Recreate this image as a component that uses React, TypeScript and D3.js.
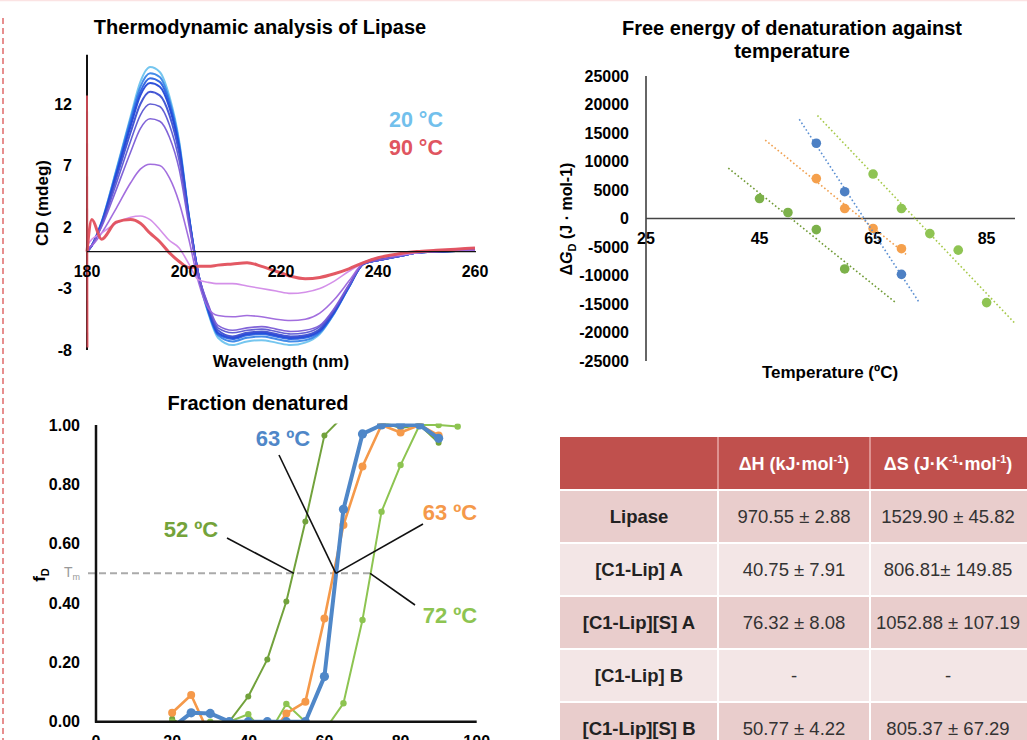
import React from 'react';
import * as d3 from 'd3';

const FONT = '"Liberation Sans", Arial, Helvetica, sans-serif';

// ---- CD spectra (mdeg) ----
const wavelengths = [180, 181, 183, 186, 189, 191, 193, 195, 197, 199, 201, 203, 205, 207, 210, 213, 216, 219, 222, 225, 228, 231, 234, 237, 240, 244, 248, 252, 256, 260];
const cd20 = [0.0, 0.5, 2.4, 6.6, 11.0, 13.8, 15.0, 14.6, 12.6, 9.0, 3.0, -2.0, -5.0, -7.0, -7.6, -7.3, -7.2, -7.4, -7.6, -7.4, -6.7, -5.0, -2.9, -1.0, -0.7, -0.4, -0.1, 0.0, 0.05, 0.1];
const cd30 = [0.0, 0.5, 2.4, 6.5, 10.8, 13.4, 14.5, 14.2, 12.3, 8.8, 2.9, -2.0, -4.9, -6.8, -7.3, -7.0, -6.9, -7.1, -7.3, -7.2, -6.6, -5.0, -2.9, -1.0, -0.7, -0.4, -0.1, 0.0, 0.05, 0.1];
const cd40 = [0.0, 0.5, 2.3, 6.3, 10.5, 13.0, 14.1, 13.8, 12.0, 8.6, 2.9, -1.9, -4.8, -6.7, -7.1, -6.8, -6.7, -6.9, -7.1, -7.0, -6.5, -4.9, -2.9, -1.0, -0.7, -0.4, -0.1, 0.0, 0.05, 0.1];
const cd45 = [0.0, 0.5, 2.3, 6.2, 10.2, 12.7, 13.7, 13.4, 11.7, 8.4, 2.8, -1.9, -4.7, -6.6, -7.0, -6.7, -6.6, -6.8, -7.0, -6.9, -6.4, -4.9, -2.8, -1.0, -0.7, -0.4, -0.1, 0.0, 0.05, 0.1];
const cd50 = [0.0, 0.5, 2.2, 5.9, 9.7, 12.0, 13.0, 12.7, 11.1, 8.0, 2.7, -1.9, -4.6, -6.4, -6.9, -6.6, -6.5, -6.7, -6.9, -6.8, -6.3, -4.8, -2.8, -1.0, -0.7, -0.4, -0.1, 0.0, 0.05, 0.1];
const cd55 = [0.0, 0.5, 2.1, 5.5, 9.0, 11.1, 12.0, 11.8, 10.3, 7.4, 2.5, -1.9, -4.4, -6.2, -6.6, -6.4, -6.3, -6.5, -6.7, -6.6, -6.1, -4.7, -2.8, -1.0, -0.7, -0.4, -0.1, 0.0, 0.05, 0.1];
const cd60 = [0.0, 0.5, 2.0, 5.0, 8.1, 10.0, 10.8, 10.6, 9.3, 6.7, 2.2, -1.9, -4.3, -6.0, -6.4, -6.2, -6.1, -6.3, -6.5, -6.4, -6.0, -4.6, -2.7, -1.0, -0.7, -0.4, -0.1, 0.0, 0.05, 0.1];
const cd65 = [0.3, 0.5, 1.5, 3.5, 5.6, 6.7, 7.1, 7.0, 6.0, 4.0, 1.0, -2.5, -4.6, -5.2, -5.3, -5.2, -5.3, -5.5, -5.6, -5.5, -5.0, -3.9, -2.4, -0.9, -0.5, -0.3, -0.1, 0.0, 0.1, 0.1];
const cd70 = [0.5, 1.0, 1.5, 2.3, 2.8, 2.9, 2.6, 1.8, 0.9, 0.3, -1.0, -2.3, -2.5, -2.6, -2.6, -2.8, -3.0, -3.2, -3.4, -3.3, -3.0, -2.4, -1.6, -0.9, -0.5, -0.3, -0.1, 0.1, 0.2, 0.3];
const cd90 = [0.0, 2.6, 1.0, 2.4, 2.6, 2.3, 1.5, 0.8, -0.1, -0.8, -1.3, -1.2, -1.2, -1.1, -1.0, -0.9, -1.2, -1.6, -2.0, -2.2, -2.1, -1.8, -1.4, -0.9, -0.5, -0.2, 0.0, 0.1, 0.2, 0.3];
const cd90Spike = [12.7, -7.8];
const cdColors = ['#6ec3ee', '#3a86e8', '#2a62e2', '#2248d8', '#3c4fd2', '#5b57d2', '#7a5cd6', '#9d66dc', '#d28ae8', '#e2505c'];
const cdYTicks = [12, 7, 2, -3, -8];
const cdXTicks = [180, 200, 220, 240, 260];

// ---- Free energy of denaturation ----
const dgBlueT = [55, 60, 70];
const dgBlue = [13200, 4700, -9800];
const dgOrangeT = [55, 60, 65, 70];
const dgOrange = [7000, 1750, -1750, -5300];
const dgDarkGreenT = [45, 50, 55, 60];
const dgDarkGreen = [3500, 1050, -1950, -8850];
const dgLightGreenT = [65, 70, 75, 80, 85];
const dgLightGreen = [7800, 1750, -2650, -5550, -14750];
const dgTrendRange = { blue: [52, 73.2], orange: [46, 70.8], darkGreen: [39.5, 68.9], lightGreen: [55.2, 90] };
const dgYTicks = [25000, 20000, 15000, 10000, 5000, 0, -5000, -10000, -15000, -20000, -25000];
const dgXTicks = [25, 45, 65, 85];

// ---- Fraction denatured ----
const fdT = [20, 25, 30, 35, 40, 45, 50, 55, 60, 65, 70, 75, 80, 85, 90];
const fdBlue = [-0.02, 0.03, 0.028, 0.0, 0.0, 0.0, 0.0, 0.0, 0.152, 0.716, 0.97, 1.0, 1.0, 1.0, 0.955];
const fdOrange = [0.03, 0.09, -0.05, -0.05, -0.04, -0.065, 0.028, 0.067, 0.348, 0.663, 0.86, 1.0, 0.975, 1.0, 0.965];
const fdDarkGreen = [0.01, -0.03, -0.01, 0.0, 0.085, 0.21, 0.405, 0.675, 0.965, 1.03, 1.02, 1.01, 0.99, 1.0, 0.94];
const fdLightGreenT = [20, 25, 30, 35, 40, 45, 50, 55, 60, 65, 70, 75, 80, 85, 90, 95];
const fdLightGreen = [0.0, -0.04, 0.0, 0.0, 0.025, -0.05, 0.06, 0.0, -0.03, 0.062, 0.343, 0.708, 0.865, 1.0, 1.0, 0.995];
const fdTm = [52, 63, 63, 72];
const fdYTicks = [0, 0.2, 0.4, 0.6, 0.8, 1.0];
const fdXTicks = [0, 20, 40, 60, 80, 100];

// ---- Thermodynamic table ----
const tableRows = ['Lipase', '[C1-Lip] A', '[C1-Lip][S] A', '[C1-Lip] B', '[C1-Lip][S] B'];
const tableDH = ['970.55 ± 2.88', '40.75 ± 7.91', '76.32 ± 8.08', '-', '50.77 ± 4.22'];
const tableDS = ['1529.90 ± 45.82', '806.81± 149.85', '1052.88 ± 107.19', '-', '805.37 ± 67.29'];

const BLUE = '#4f87c8';
const ORANGE = '#f5994a';
const DGREEN = '#72a23c';
const LGREEN = '#8dc451';

function regression(xs: number[], ys: number[]) {
  const mx = d3.mean(xs) || 0;
  const my = d3.mean(ys) || 0;
  let sxy = 0, sxx = 0;
  xs.forEach((x, i) => { sxy += (x - mx) * (ys[i] - my); sxx += (x - mx) * (x - mx); });
  const b = sxy / sxx;
  return (x: number) => my + b * (x - mx);
}

function CDPanel() {
  const x = d3.scaleLinear().domain([180, 260]).range([87, 475]);
  const y = d3.scaleLinear().domain([-8, 12]).range([350, 104]);
  const series = [cd20, cd30, cd40, cd45, cd50, cd55, cd60, cd65, cd70, cd90];
  const line = d3.line<number>().x((_, i) => x(wavelengths[i])).y(d => y(d)).curve(d3.curveMonotoneX);
  return (
    <g>
      <text x={260} y={34} textAnchor="middle" fontSize={20} fontWeight="bold">Thermodynamic analysis of Lipase</text>
      {series.map((s, k) => (
        <path key={k} d={line(s) || ''} fill="none" stroke={cdColors[k]}
          strokeWidth={k === 9 ? 3 : k < 5 ? 2 : 1.6} strokeOpacity={0.95} />
      ))}
      <line x1={x(180)} x2={x(180)} y1={y(16)} y2={y(-8)} stroke="#111" strokeWidth={2} />
      <line x1={x(180)} x2={x(180) + 0.5} y1={y(cd90Spike[0])} y2={y(cd90Spike[1])} stroke="#e2505c" strokeWidth={2} strokeOpacity={0.85} />
      <line x1={x(180)} x2={x(260) + 1} y1={y(0)} y2={y(0)} stroke="#111" strokeWidth={1.3} />
      {cdYTicks.map(t => (
        <text key={t} x={72} y={y(t)} dy="0.35em" textAnchor="end" fontSize={16} fontWeight="bold">{t}</text>
      ))}
      {cdXTicks.map(t => (
        <text key={t} x={x(t)} y={y(0) + 20} dy="0.35em" textAnchor="middle" fontSize={16} fontWeight="bold">{t}</text>
      ))}
      <text x={281} y={367} textAnchor="middle" fontSize={17} fontWeight="bold">Wavelength (nm)</text>
      <text transform="translate(48,203) rotate(-90)" textAnchor="middle" fontSize={17} fontWeight="bold">CD (mdeg)</text>
      <text x={416} y={127} textAnchor="middle" fontSize={21.5} fontWeight="bold" fill="#72c0ec">20 °C</text>
      <text x={416} y={155} textAnchor="middle" fontSize={21.5} fontWeight="bold" fill="#e05560">90 °C</text>
    </g>
  );
}

function FreeEnergyPanel() {
  const x = d3.scaleLinear().domain([25, 90]).range([646, 1015]);
  const y = d3.scaleLinear().domain([-25000, 25000]).range([361, 76]);
  const groups = [
    { t: dgDarkGreenT, v: dgDarkGreen, r: dgTrendRange.darkGreen, dot: '#7cb14a', trend: '#6f9a34' },
    { t: dgLightGreenT, v: dgLightGreen, r: dgTrendRange.lightGreen, dot: '#8fc453', trend: '#a6c94a' },
    { t: dgOrangeT, v: dgOrange, r: dgTrendRange.orange, dot: '#f5a04c', trend: '#f0a050' },
    { t: dgBlueT, v: dgBlue, r: dgTrendRange.blue, dot: '#4d80c4', trend: '#5b8fd2' },
  ];
  return (
    <g>
      <text x={792} y={35} textAnchor="middle" fontSize={20} fontWeight="bold">Free energy of denaturation against</text>
      <text x={792} y={58} textAnchor="middle" fontSize={20} fontWeight="bold">temperature</text>
      <line x1={x(25)} x2={x(25)} y1={y(25000)} y2={y(-25000)} stroke="#333" strokeWidth={1.5} />
      <line x1={x(25)} x2={x(90)} y1={y(0)} y2={y(0)} stroke="#444" strokeWidth={1.5} />
      {dgYTicks.map(t => (
        <text key={t} x={629} y={y(t)} dy="0.35em" textAnchor="end" fontSize={16} fontWeight="bold">{t}</text>
      ))}
      {dgXTicks.map(t => (
        <text key={t} x={x(t)} y={y(0) + 20} dy="0.35em" textAnchor="middle" fontSize={16} fontWeight="bold">{t}</text>
      ))}
      {groups.map((g, k) => {
        const f = regression(g.t, g.v);
        return (
          <g key={k}>
            <line x1={x(g.r[0])} x2={x(g.r[1])} y1={y(f(g.r[0]))} y2={y(f(g.r[1]))}
              stroke={g.trend} strokeWidth={1.6} strokeDasharray="1.6,2.4" />
            {g.t.map((t, i) => (
              <circle key={i} cx={x(t)} cy={y(g.v[i])} r={4.8} fill={g.dot} />
            ))}
          </g>
        );
      })}
      <text x={830} y={378} textAnchor="middle" fontSize={17} fontWeight="bold">Temperature (ºC)</text>
      <text transform="translate(572,219) rotate(-90)" textAnchor="middle" fontSize={16} fontWeight="bold">
        Δ<tspan fontStyle="italic">G</tspan><tspan fontSize={11} dy={4}>D</tspan><tspan dy={-4}> (J · mol-1)</tspan>
      </text>
    </g>
  );
}

function FractionPanel() {
  const x = d3.scaleLinear().domain([0, 100]).range([96, 476.7]);
  const y = d3.scaleLinear().domain([0, 1]).range([721.7, 425]);
  const series = [
    { t: fdT, v: fdDarkGreen, c: DGREEN, w: 2, r: 3 },
    { t: fdLightGreenT, v: fdLightGreen, c: LGREEN, w: 2, r: 3.2 },
    { t: fdT, v: fdOrange, c: ORANGE, w: 2.6, r: 4 },
    { t: fdT, v: fdBlue, c: BLUE, w: 4, r: 4.6 },
  ];
  const yHalf = y(0.5);
  const callouts = [
    { label: '52 ºC', color: '#74a33a', tx: 191, ty: 537, from: [227, 538], tm: fdTm[0] },
    { label: '63 ºC', color: BLUE, tx: 283, ty: 446, from: [279, 455], tm: fdTm[1] },
    { label: '63 ºC', color: ORANGE, tx: 450, ty: 520, from: [423, 524], tm: fdTm[2] },
    { label: '72 ºC', color: LGREEN, tx: 450, ty: 623, from: [415, 605], tm: fdTm[3] },
  ];
  return (
    <g>
      <defs>
        <clipPath id="fd-clip">
          <rect x={x(0)} y={y(1) - 1.5} width={x(100) - x(0) + 2} height={y(0) - y(1) + 1.5} />
        </clipPath>
      </defs>
      <text x={258} y={410} textAnchor="middle" fontSize={20} fontWeight="bold">Fraction denatured</text>
      <line x1={88} x2={x(72.5)} y1={yHalf} y2={yHalf} stroke="#aaa" strokeWidth={2} strokeDasharray="7,4" />
      <text x={64} y={yHalf + 4} fontSize={14} fill="#999">T<tspan fontSize={9} dy={3}>m</tspan></text>
      <g clipPath="url(#fd-clip)">
        {series.map((s, k) => {
          const line = d3.line<number>().x((_, i) => x(s.t[i])).y(d => y(d));
          return (
            <g key={k}>
              <path d={line(s.v) || ''} fill="none" stroke={s.c} strokeWidth={s.w} strokeLinejoin="round" />
              {s.v.map((d, i) => (
                <circle key={i} cx={x(s.t[i])} cy={y(d)} r={s.r} fill={s.c} />
              ))}
            </g>
          );
        })}
      </g>
      {callouts.map((c, k) => (
        <g key={k}>
          <line x1={c.from[0]} y1={c.from[1]} x2={x(c.tm)} y2={yHalf} stroke="#111" strokeWidth={1.6} />
          <text x={c.tx} y={c.ty} textAnchor="middle" fontSize={22} fontWeight="bold" fill={c.color}>{c.label}</text>
        </g>
      ))}
      <line x1={x(0)} x2={x(0)} y1={y(1)} y2={y(0) + 1} stroke="#111" strokeWidth={2.5} />
      <line x1={x(0) - 1} x2={x(100)} y1={y(0)} y2={y(0)} stroke="#111" strokeWidth={2.5} />
      {fdYTicks.map(t => (
        <text key={t} x={80} y={y(t)} dy="0.35em" textAnchor="end" fontSize={16} fontWeight="bold">{t.toFixed(2)}</text>
      ))}
      {fdXTicks.map(t => (
        <text key={t} x={x(t)} y={747} textAnchor="middle" fontSize={16} fontWeight="bold">{t}</text>
      ))}
      <text transform="translate(45,575) rotate(-90)" textAnchor="middle" fontSize={17} fontWeight="bold">
        f<tspan fontSize={11} dy={4}>D</tspan>
      </text>
    </g>
  );
}

function TablePanel() {
  const cols = [560, 718, 870, 1030];
  const headerTop = 437;
  const headerH = 52;
  const rowTop = d3.range(tableRows.length).map(i => 491 + i * 53);
  const rowH = 51;
  const sup = (s: string) => <tspan fontSize={11} dy={-7}>{s}</tspan>;
  return (
    <g>
      <rect x={cols[0]} y={headerTop} width={cols[3] - cols[0]} height={headerH} fill="#c0504d" />
      <line x1={cols[1]} x2={cols[1]} y1={headerTop} y2={headerTop + headerH} stroke="#e8a9a7" strokeWidth={1.5} />
      <line x1={cols[2]} x2={cols[2]} y1={headerTop} y2={headerTop + headerH} stroke="#e8a9a7" strokeWidth={1.5} />
      <text x={(cols[1] + cols[2]) / 2} y={headerTop + 33} textAnchor="middle" fontSize={18} fontWeight="bold" fill="#fff">
        ΔH (kJ·mol{sup('-1')}<tspan dy={7}>)</tspan>
      </text>
      <text x={948} y={headerTop + 33} textAnchor="middle" fontSize={18} fontWeight="bold" fill="#fff">
        ΔS (J·K{sup('-1')}<tspan dy={7}>·mol</tspan>{sup('-1')}<tspan dy={7}>)</tspan>
      </text>
      {tableRows.map((r, i) => (
        <g key={r}>
          <rect x={cols[0]} y={rowTop[i]} width={cols[3] - cols[0]} height={rowH} fill={i % 2 === 0 ? '#e9cdcc' : '#f3e6e6'} />
          <line x1={cols[1]} x2={cols[1]} y1={rowTop[i]} y2={rowTop[i] + rowH} stroke="#fff" strokeWidth={2} />
          <line x1={cols[2]} x2={cols[2]} y1={rowTop[i]} y2={rowTop[i] + rowH} stroke="#fff" strokeWidth={2} />
          <text x={(cols[0] + cols[1]) / 2} y={rowTop[i] + rowH / 2} dy="0.35em" textAnchor="middle" fontSize={18.5} fontWeight="bold" fill="#222">{r}</text>
          <text x={(cols[1] + cols[2]) / 2} y={rowTop[i] + rowH / 2} dy="0.35em" textAnchor="middle" fontSize={18.5} fill="#333">{tableDH[i]}</text>
          <text x={948} y={rowTop[i] + rowH / 2} dy="0.35em" textAnchor="middle" fontSize={18.5} fill="#333">{tableDS[i]}</text>
        </g>
      ))}
    </g>
  );
}

export default function App() {
  return (
    <svg width={1027} height={740} viewBox="0 0 1027 740"
      style={{ position: 'absolute', left: 0, top: 0, background: '#fff', fontFamily: FONT }}>
      <rect x={0} y={0} width={1027} height={740} fill="#fff" />
      <line x1={0} x2={1027} y1={0.5} y2={0.5} stroke="#fbe3e3" strokeWidth={1.5} />
      <line x1={3} x2={3} y1={18} y2={740} stroke="#e06a6a" strokeWidth={1.5} strokeDasharray="6,4" />
      <CDPanel />
      <FreeEnergyPanel />
      <FractionPanel />
      <TablePanel />
    </svg>
  );
}
